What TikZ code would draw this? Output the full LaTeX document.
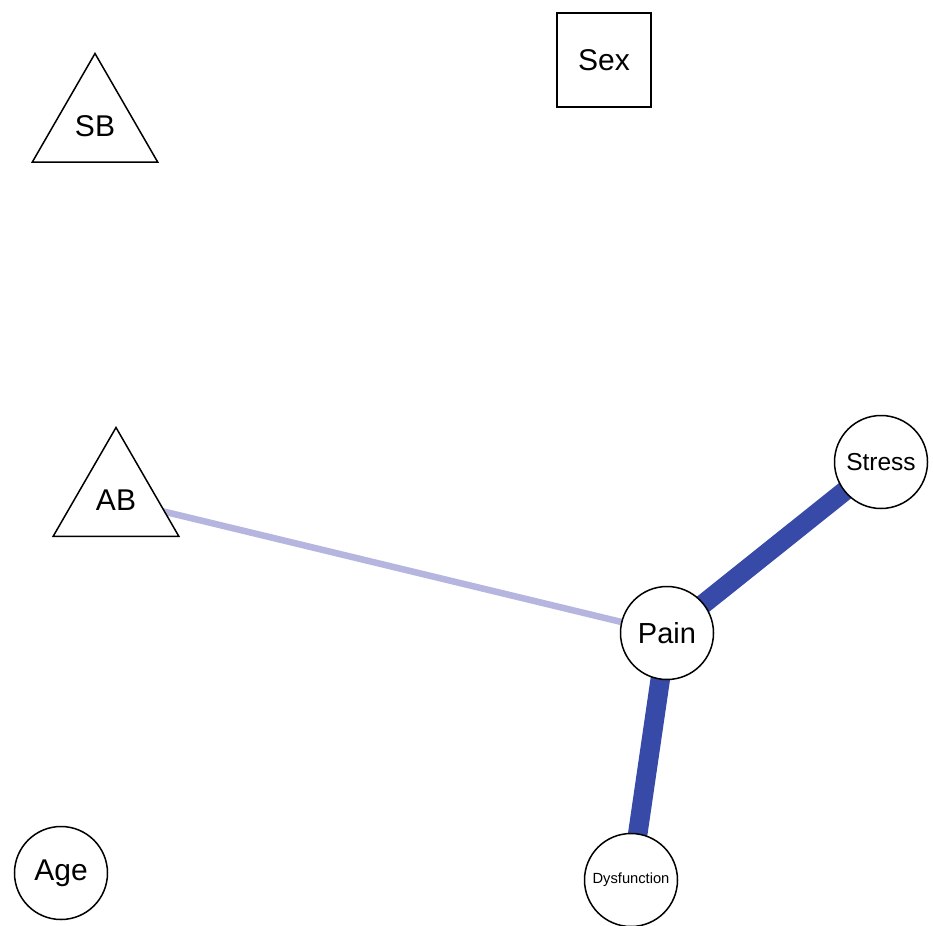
\documentclass[tikz,border=0pt]{standalone}
\usepackage{fontspec}
\setmainfont{Liberation Sans}
\usetikzlibrary{shapes.geometric,backgrounds}
\definecolor{strongedge}{RGB}{56,74,168}
\definecolor{weakedge}{RGB}{181,181,224}
\tikzset{
  vcircle/.style={circle,draw=black,fill=white,line width=1.5pt,minimum size=93pt,inner sep=0pt},
  vtri/.style={regular polygon,regular polygon sides=3,draw=black,fill=white,line width=1.5pt,minimum size=145pt,inner sep=0pt},
  vsquare/.style={rectangle,draw=black,fill=white,line width=1.5pt,minimum size=94pt,inner sep=0pt},
  bigtxt/.style={font=\fontsize{30}{34}\selectfont},
  strong/.style={draw=strongedge,line width=19.5pt},
  weak/.style={draw=weakedge,line width=6.5pt}
}
\begin{document}
\begin{tikzpicture}[x=1pt,y=-1pt]
\useasboundingbox (0,0) rectangle (933,925);
\node[vsquare,bigtxt] (Sex) at (604,60) {Sex};
\node[vtri,bigtxt] (SB) at (95,126) {SB};
\node[vtri,bigtxt] (AB) at (116,500) {AB};
\node[vcircle,font=\fontsize{24.5}{28}\selectfont] (Stress) at (881,462) {Stress};
\node[vcircle,font=\fontsize{29}{33}\selectfont] (Pain) at (667,633) {Pain};
\node[vcircle,font=\fontsize{14.7}{17}\selectfont] (Dysfunction) at (631,880) {Dysfunction};
\node[vcircle,bigtxt] (Age) at (61,873) {Age};
\begin{pgfonlayer}{background}
\fill[white] (0,0) rectangle (933,925);
\draw[weak] (AB.center) -- (Pain.center);
\draw[strong] (Pain.center) -- (Stress.center);
\draw[strong] (Pain.center) -- (Dysfunction.center);
\end{pgfonlayer}
\end{tikzpicture}
\end{document}
